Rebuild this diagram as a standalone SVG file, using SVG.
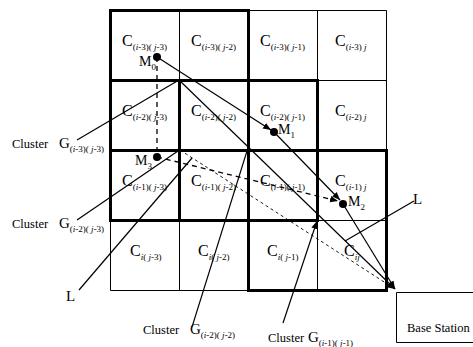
<svg xmlns="http://www.w3.org/2000/svg" width="473" height="347" viewBox="0 0 473 347">
<style>
text{font-family:"Liberation Serif","Times New Roman",serif;fill:#000}
.c{font-size:16px}
.s{font-size:9px}
.it{font-style:italic}
.thin{fill:none;stroke:#000;stroke-width:1}
.thick{fill:none;stroke:#000;stroke-width:3}
.ln{fill:none;stroke:#000;stroke-width:1.2}
.dl{fill:none;stroke:#000;stroke-width:1.3;stroke-dasharray:5,4}
.dt{fill:none;stroke:#000;stroke-width:0.9;stroke-dasharray:3,3}
.lbl{font-size:12.5px}
.g{font-size:15px}
.m{font-size:14px}
</style>
<defs>
<marker id="ah" viewBox="0 0 10 10" refX="10" refY="5" markerWidth="8" markerHeight="8" markerUnits="userSpaceOnUse" orient="auto">
<path d="M0,1 L10,5 L0,9 Z" fill="#000"/>
</marker>
</defs>
<g id="grid">
<path class="thin" d="M110.5,10.5H386.5V290.5H110.5Z M179.5,10V290 M248.5,10V290 M317.5,10V290 M110,80.5H386 M110,150.5H386 M110,220.5H386"/>
<rect class="thick" x="110.5" y="10.5" width="138" height="140"/>
<rect class="thick" x="110.5" y="80.5" width="138" height="140"/>
<rect class="thick" x="179.5" y="80.5" width="138" height="140"/>
<rect class="thick" x="248.5" y="150.5" width="138" height="140"/>
</g>
<g id="cells">
<text x="122" y="46"><tspan class="c">C</tspan><tspan class="s" dy="4">(<tspan class="it">i</tspan>-3)( <tspan class="it">j</tspan>-3)</tspan></text>
<text x="191" y="46"><tspan class="c">C</tspan><tspan class="s" dy="4">(<tspan class="it">i</tspan>-3)( <tspan class="it">j</tspan>-2)</tspan></text>
<text x="260" y="46"><tspan class="c">C</tspan><tspan class="s" dy="4">(<tspan class="it">i</tspan>-3)( <tspan class="it">j</tspan>-1)</tspan></text>
<text x="335" y="46"><tspan class="c">C</tspan><tspan class="s" dy="4">(<tspan class="it">i</tspan>-3) <tspan class="it">j</tspan></tspan></text>
<text x="122" y="116"><tspan class="c">C</tspan><tspan class="s" dy="4">(<tspan class="it">i</tspan>-2)( <tspan class="it">j</tspan>-3)</tspan></text>
<text x="191" y="116"><tspan class="c">C</tspan><tspan class="s" dy="4">(<tspan class="it">i</tspan>-2)( <tspan class="it">j</tspan>-2)</tspan></text>
<text x="260" y="116"><tspan class="c">C</tspan><tspan class="s" dy="4">(<tspan class="it">i</tspan>-2)( <tspan class="it">j</tspan>-1)</tspan></text>
<text x="335" y="116"><tspan class="c">C</tspan><tspan class="s" dy="4">(<tspan class="it">i</tspan>-2) <tspan class="it">j</tspan></tspan></text>
<text x="122" y="186"><tspan class="c">C</tspan><tspan class="s" dy="4">(<tspan class="it">i</tspan>-1)( <tspan class="it">j</tspan>-3)</tspan></text>
<text x="191" y="186"><tspan class="c">C</tspan><tspan class="s" dy="4">(<tspan class="it">i</tspan>-1)( <tspan class="it">j</tspan>-2)</tspan></text>
<text x="260" y="186"><tspan class="c">C</tspan><tspan class="s" dy="4">(<tspan class="it">i</tspan>-1)( <tspan class="it">j</tspan>-1)</tspan></text>
<text x="335" y="186"><tspan class="c">C</tspan><tspan class="s" dy="4">(<tspan class="it">i</tspan>-1) <tspan class="it">j</tspan></tspan></text>
<text x="130" y="256"><tspan class="c">C</tspan><tspan class="s" dy="4"><tspan class="it">i</tspan>( <tspan class="it">j</tspan>-3)</tspan></text>
<text x="198" y="256"><tspan class="c">C</tspan><tspan class="s" dy="4"><tspan class="it">i</tspan>( <tspan class="it">j</tspan>-2)</tspan></text>
<text x="267" y="256"><tspan class="c">C</tspan><tspan class="s" dy="4"><tspan class="it">i</tspan>( <tspan class="it">j</tspan>-1)</tspan></text>
<text x="344" y="256"><tspan class="c">C</tspan><tspan class="s it" dy="4">ij</tspan></text>
</g>
<g id="connectors">
<line class="dl" x1="157" y1="57" x2="157" y2="157"/>
<line class="ln" x1="157" y1="57" x2="271" y2="130" marker-end="url(#ah)"/>
<line class="ln" x1="274" y1="132" x2="340" y2="200" marker-end="url(#ah)"/>
<line class="dl" x1="157" y1="157" x2="338" y2="201" marker-end="url(#ah)"/>
<line class="ln" x1="343" y1="204" x2="395" y2="289" marker-end="url(#ah)"/>
<line class="ln" x1="179" y1="80" x2="395" y2="289" marker-end="url(#ah)"/>
<line class="dt" x1="180" y1="150" x2="395" y2="289" marker-end="url(#ah)"/>
<line class="ln" x1="77" y1="140" x2="179" y2="80"/>
<line class="ln" x1="77" y1="220" x2="178" y2="151"/>
<line class="ln" x1="79" y1="290" x2="192" y2="158"/>
<line class="ln" x1="192" y1="327" x2="247" y2="151"/>
<line class="ln" x1="283" y1="323" x2="317" y2="221" marker-end="url(#ah)"/>
<line class="ln" x1="414" y1="201" x2="345" y2="241"/>
</g>
<g id="M0"><circle cx="157" cy="57" r="4"/><text x="139" y="66"><tspan class="m">M</tspan><tspan class="s" dy="4">0</tspan></text></g>
<g id="M1"><circle cx="274" cy="132" r="4"/><text x="278" y="134"><tspan class="m">M</tspan><tspan class="s" dy="4">1</tspan></text></g>
<g id="M3"><circle cx="157" cy="157" r="4"/><text x="135" y="165"><tspan class="m">M</tspan><tspan class="s" dy="4">3</tspan></text></g>
<g id="M2"><circle cx="343" cy="204" r="4"/><text x="348" y="206"><tspan class="m">M</tspan><tspan class="s" dy="4">2</tspan></text></g>
<g id="labels">
<text x="12" y="148" class="lbl">Cluster</text>
<text x="59" y="148"><tspan class="g">G</tspan><tspan class="s" dy="4">(<tspan class="it">i</tspan>-3)( <tspan class="it">j</tspan>-3)</tspan></text>
<text x="12" y="228" class="lbl">Cluster</text>
<text x="59" y="228"><tspan class="g">G</tspan><tspan class="s" dy="4">(<tspan class="it">i</tspan>-2)( <tspan class="it">j</tspan>-3)</tspan></text>
<text x="143" y="334" class="lbl">Cluster</text>
<text x="190" y="334"><tspan class="g">G</tspan><tspan class="s" dy="4">(<tspan class="it">i</tspan>-2)( <tspan class="it">j</tspan>-2)</tspan></text>
<text x="268" y="342" class="lbl">Cluster</text>
<text x="308" y="342"><tspan class="g">G</tspan><tspan class="s" dy="4">(<tspan class="it">i</tspan>-1)( <tspan class="it">j</tspan>-1)</tspan></text>
<text x="66" y="301" class="g">L</text>
<text x="413" y="204" class="g">L</text>
</g>
<g id="base">
<path d="M476,292.5H396.5V342.5H476" fill="#fff" stroke="#000" stroke-width="1"/>
<text x="407" y="332" class="lbl">Base Station</text>
</g>
</svg>
